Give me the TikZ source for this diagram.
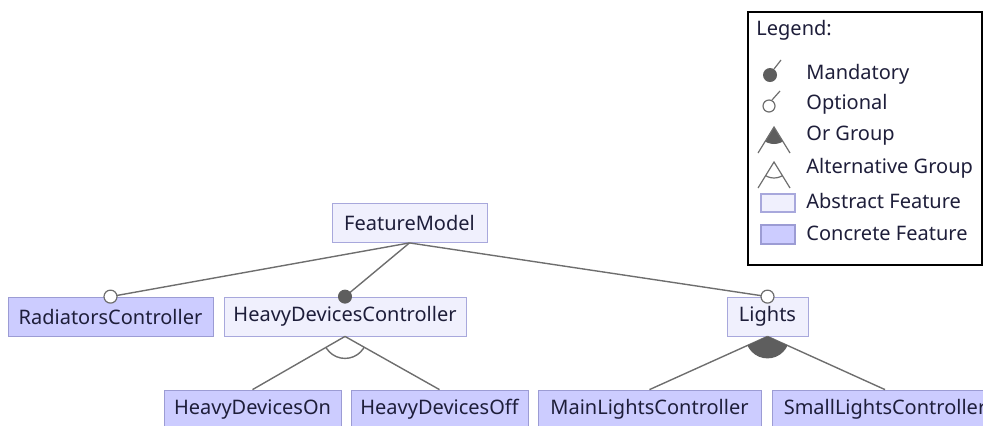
\documentclass[tikz,border=0pt]{standalone}
\usepackage{fontspec}
\setmainfont{Noto Sans}
\usetikzlibrary{positioning}

\definecolor{abstractfill}{HTML}{F0F0FD}
\definecolor{abstractline}{HTML}{A8A8DC}
\definecolor{concretefill}{HTML}{CCCCFF}
\definecolor{concreteline}{HTML}{9C9CD4}
\definecolor{edgegrey}{HTML}{6E6E6E}
\definecolor{markgrey}{HTML}{5E5E5E}
\definecolor{labeltext}{HTML}{1E1E3A}

\tikzset{
  feature/.style={rectangle, minimum height=19.5pt, inner sep=0pt,
    font=\fontsize{10pt}{12pt}\selectfont, text=labeltext},
  abstract/.style={feature, draw=abstractline, fill=abstractfill},
  concrete/.style={feature, draw=concreteline, fill=concretefill},
  edge/.style={draw=edgegrey, line width=0.7pt},
  mandatory/.style={fill=markgrey, draw=markgrey, line width=0.5pt},
  optional/.style={fill=white, draw=edgegrey, line width=0.6pt},
  legendtext/.style={anchor=west, inner sep=0pt,
    font=\fontsize{10pt}{12pt}\selectfont, text=labeltext}
}

\begin{document}
\begin{tikzpicture}[x=0.5pt, y=-0.5pt]
    \useasboundingbox (0,0) rectangle (983,425);

    % features
    \node[abstract, minimum width=77.5pt]  (fm)     at (409.5,223)   {FeatureModel};
    \node[concrete, minimum width=102.5pt] (rad)    at (110.5,316.5) {RadiatorsController};
    \node[abstract, minimum width=121pt]   (hdc)    at (345,316.5)   {HeavyDevicesController};
    \node[abstract, minimum width=40.5pt]  (lights) at (767.5,316.5) {Lights};
    \node[concrete, minimum width=88.5pt]  (hdon)   at (252.5,409.5) {HeavyDevicesOn};
    \node[concrete, minimum width=88.5pt]  (hdoff)  at (439.5,409.5) {HeavyDevicesOff};
    \node[concrete, minimum width=111.5pt] (mlc)    at (649.5,409.5) {MainLightsController};
    \node[concrete, minimum width=113pt]   (slc)    at (885,409.5)   {SmallLightsController};

    % parent-child edges
    \draw[edge] (fm.south) -- (rad.north);
    \draw[edge] (fm.south) -- (hdc.north);
    \draw[edge] (fm.south) -- (lights.north);
    \draw[edge] (hdc.south) -- (hdon.north);
    \draw[edge] (hdc.south) -- (hdoff.north);
    \draw[edge] (lights.south) -- (mlc.north);
    \draw[edge] (lights.south) -- (slc.north);

    % alternative group arc
    \begin{scope}
      \clip (hdc.south) -- (hdon.north) -- (hdoff.north) -- cycle;
      \draw[edge] (hdc.south) circle (22);
    \end{scope}
    % or group sector
    \begin{scope}
      \clip (lights.south) -- (mlc.north) -- (slc.north) -- cycle;
      \fill[markgrey] (lights.south) circle (22);
    \end{scope}

    % optional / mandatory marks
    \draw[optional]  (rad.north)    circle (6.5);
    \draw[mandatory] (hdc.north)    circle (6.5);
    \draw[optional]  (lights.north) circle (6.5);

    % legend
    \draw[black, line width=1pt] (748,12) rectangle (982,265);
    \node[legendtext] (lgtitle) at (756,30) {Legend:};

    \fill[markgrey] (770,75) circle (7);
    \draw[edgegrey, line width=0.6pt] (774,69) -- (781,60);
    \node[legendtext] (lgmand) at (806,74) {Mandatory};

    \draw[optional] (769,106) circle (6);
    \draw[edgegrey, line width=0.6pt] (772,100) -- (780,91);
    \node[legendtext] (lgopt) at (806,104) {Optional};

    \begin{scope}
      \clip (774,127) -- (758,153) -- (790,153) -- cycle;
      \fill[markgrey] (774,127) circle (17);
    \end{scope}
    \draw[edgegrey, line width=0.6pt] (758,153) -- (774,127) -- (790,153);
    \node[legendtext] (lgor) at (806,136) {Or Group};

    \begin{scope}
      \clip (774,162) -- (758,188) -- (790,188) -- cycle;
      \draw[edgegrey, line width=0.6pt] (774,162) circle (16);
    \end{scope}
    \draw[edgegrey, line width=0.6pt] (758,188) -- (774,162) -- (790,188);
    \node[legendtext] (lgalt) at (806,168) {Alternative Group};

    \draw[abstractline, fill=abstractfill, line width=0.6pt] (761,194) rectangle (795,212);
    \node[legendtext] (lgabs) at (806,201) {Abstract Feature};
    \draw[concreteline, fill=concretefill, line width=0.6pt] (761,225) rectangle (795,244);
    \node[legendtext] (lgcon) at (806,233) {Concrete Feature};
\end{tikzpicture}
\end{document}
